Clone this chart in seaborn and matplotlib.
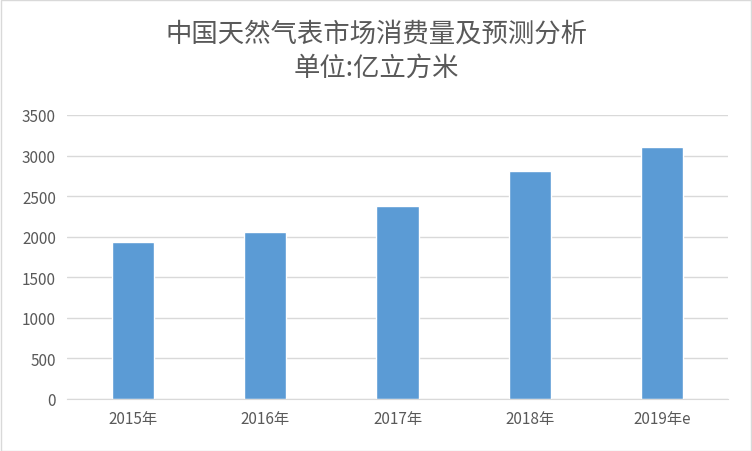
import matplotlib
matplotlib.use("Agg")
import matplotlib.pyplot as plt
import seaborn as sns

years = ['2015年', '2016年', '2017年', '2018年', '2019年e']
consumption = [1935, 2060, 2380, 2810, 3105]

sns.set_style("white")
plt.rcParams['font.family'] = ['Noto Sans CJK SC', 'DejaVu Sans']

fig = plt.figure(figsize=(7.52, 4.52), dpi=100)
ax = fig.add_axes([67/752, 52/452, 661/752, 284/452])
sns.barplot(x=years, y=consumption, color='#5B9BD5', width=0.32, saturation=1, ax=ax)

ax.set_ylim(0, 3500)
ax.set_yticks(range(0, 3501, 500))
ax.yaxis.grid(True, color='#D9D9D9', linewidth=1)
ax.set_axisbelow(True)
for s in ['top', 'right', 'left']:
    ax.spines[s].set_visible(False)
ax.spines['bottom'].set_color('#D9D9D9')
ax.tick_params(axis='both', length=0, labelsize=11, colors='#595959', pad=8)
ax.set_xlabel('')
ax.set_ylabel('')

fig.text(0.5, 0.925, '中国天然气表市场消费量及预测分析', ha='center', va='center',
         fontsize=19, color='#595959')
fig.text(0.5, 0.85, '单位:亿立方米', ha='center', va='center',
         fontsize=19, color='#595959')

fig.patches.append(plt.Rectangle((0.001, 0.001), 0.998, 0.997, transform=fig.transFigure,
                                 fill=False, edgecolor='#D9D9D9', linewidth=1))
fig.savefig('out.png', dpi=100)
